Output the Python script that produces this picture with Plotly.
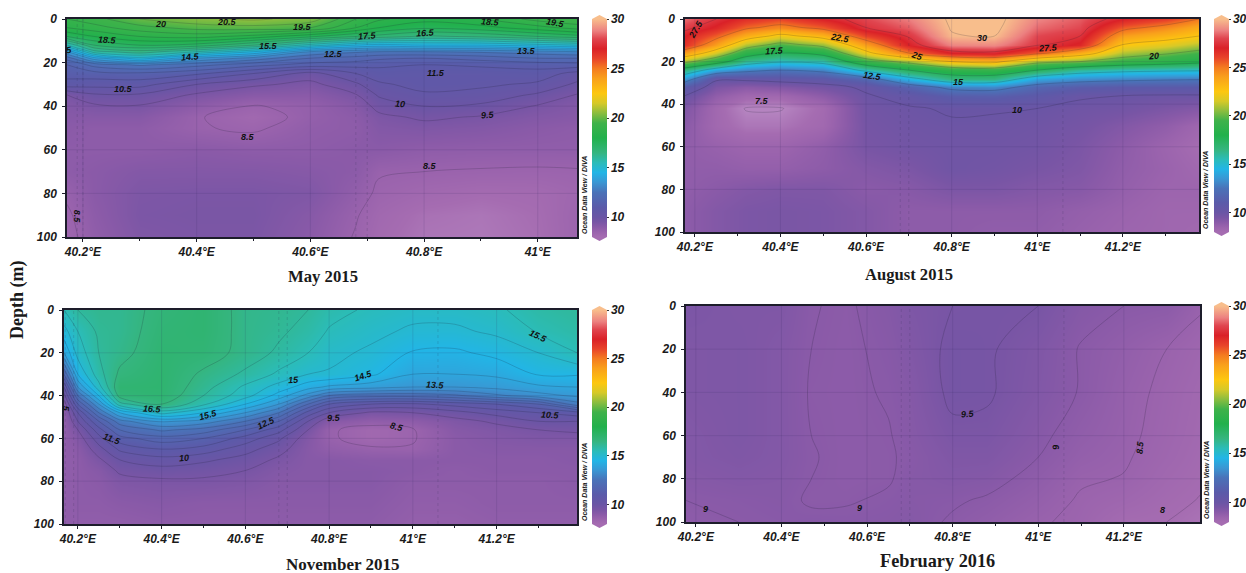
import plotly.graph_objects as go

W, H = 1246, 573

# ---------- Colour scale ----------
stop_values = [7.5, 8, 8.5, 9, 9.5, 10, 11, 12.5, 13.5, 14.5, 15.5, 16.5, 18, 19.5, 20.5, 21.5, 22.5, 24, 25, 26, 27, 28, 28.8, 30]
stop_colors = ["#B584C0", "#A56CB1", "#9A63AD", "#8A5AA8", "#7855A5", "#6A55A5", "#5B5AA9", "#4A72B8", "#3A96D3", "#22B5E6",
               "#2BBCB8", "#35B57F", "#22B14C", "#3FB24A", "#8BBD3F", "#D6C928", "#FDC70F", "#F9A01B", "#F47B20", "#E8432A",
               "#DA2128", "#E0454F", "#EC8080", "#F8BE8C"]
ZLOW, ZMIN, ZMAX = 7.5, 8, 30

# ---------- May 2015 (rows = depth) ----------
may_lon = [40.172, 40.22, 40.3, 40.4, 40.5, 40.6, 40.68, 40.72, 40.8, 40.9, 41.0, 41.069]
may_depth = [0, 4, 8, 12, 15, 18, 21, 25, 30, 35, 40, 45, 50, 60, 70, 80, 90, 100]
may_temp = [
    [19, 19.3, 20, 20.4, 20.6, 20.3, 19, 18.6, 18.2, 18.5, 19.2, 19.5],
    [18.5, 18.8, 19.3, 19.7, 19.8, 19.5, 18.5, 18, 17.6, 17.8, 18.3, 18.7],
    [17.5, 18, 18.5, 18.7, 18.3, 17.6, 17, 16.8, 16.4, 16.6, 17, 17.3],
    [15.5, 17, 17.5, 17.3, 16.5, 15.3, 14.5, 14.3, 14.5, 14.5, 14.8, 15],
    [13.5, 15.8, 16.3, 15.5, 14.5, 13, 12.6, 12.5, 12.5, 12.6, 12.8, 13],
    [12.2, 13.8, 14.8, 13.5, 12.8, 12, 11.8, 11.6, 11.5, 11.7, 12, 12],
    [11.5, 12.2, 12.6, 12.2, 11.7, 11.3, 11.2, 11.1, 11, 11.1, 11.2, 11.3],
    [11.2, 11.3, 11.4, 11.1, 10.5, 9.8, 10.5, 10.8, 10.7, 10.7, 10.8, 10.3],
    [10.8, 10.7, 10.7, 10, 9.6, 9.35, 9.9, 10.4, 10.7, 10.6, 10.4, 9.9],
    [9.45, 9.9, 9.9, 9.4, 9.05, 9, 9.45, 10.05, 10.4, 10.3, 9.9, 9.45],
    [9.2, 9.4, 9.45, 8.9, 8.45, 8.7, 9.1, 9.7, 10, 9.9, 9.45, 9.2],
    [9.1, 9.1, 9.1, 8.55, 8.2, 8.7, 8.95, 9.35, 9.6, 9.45, 9.2, 9.1],
    [9, 8.9, 8.9, 8.55, 8.4, 8.8, 8.9, 9.2, 9.3, 9.2, 9, 8.9],
    [8.9, 8.9, 8.9, 9, 8.9, 8.9, 9, 9, 8.85, 8.8, 8.8, 8.8],
    [8.9, 9, 9.2, 9.2, 9.2, 9.1, 8.95, 8.55, 8.5, 8.45, 8.42, 8.45],
    [8.6, 9, 9.35, 9.4, 9.4, 9.3, 8.75, 8.4, 8.2, 8.05, 8.1, 8.3],
    [8.4, 8.9, 9.4, 9.45, 9.45, 9.1, 8.55, 8.2, 7.9, 7.8, 8, 8.4],
    [8.3, 8.8, 9.3, 9.4, 9.4, 9.0, 8.45, 8.1, 7.8, 7.75, 7.95, 8.4],
]
may_labels = [
    ("20", 40.336, 2.5, 0), ("20.5", 40.454, 1.2, 0), ("19.5", 40.587, 3.8, 0), ("18.5", 40.916, 1.5, 5),
    ("19.5", 41.032, 2, 10), ("18.5", 40.244, 9.6, 3), ("17.5", 40.70, 7.8, -5), ("16.5", 40.802, 6.6, -3),
    ("15.5", 40.526, 12.3, 0), ("14.5", 40.389, 17.3, -5), ("12.5", 40.641, 16, 0), ("13.5", 40.981, 14.7, 0),
    ("5", 40.176, 14, -10), ("11.5", 40.821, 24.7, 0), ("10.5", 40.272, 31.9, 0), ("10", 40.757, 39.2, 5),
    ("9.5", 40.912, 44, -5), ("8.5", 40.49, 54.2, 0), ("8.5", 40.811, 67.4, 0), ("8.5", 40.19, 90.8, 90),
]
may_levels = [(9.5, 30, 0.5), (8.5, 8.5, 0.5)]

# ---------- August 2015 (rows = longitude) ----------
aug_lon = [40.177, 40.25, 40.32, 40.4, 40.5, 40.6, 40.7, 40.8, 40.9, 41.0, 41.1, 41.2, 41.3, 41.378]
aug_depth = [0, 4, 8, 12, 16, 20, 24, 28, 32, 36, 42, 50, 60, 70, 80, 90, 100]
aug_temp = [
    [28.5, 27.8, 27, 26.5, 24, 20.5, 16.5, 13.5, 11, 10, 9.3, 9, 8.8, 8.8, 8.8, 8.9, 8.9],
    [27.5, 26.8, 25.5, 24, 21.5, 18.5, 14, 10.2, 9.4, 8.8, 8.2, 8.2, 8.6, 8.8, 9, 9.2, 9.2],
    [26.6, 25.3, 23.5, 21, 18.6, 16, 13, 10.3, 9, 8.2, 7.45, 7.8, 8.4, 8.7, 9.2, 9.4, 9.4],
    [26, 24.5, 22, 19.5, 17.5, 15.2, 12.5, 10.5, 9.2, 8.2, 7.45, 7.8, 8.4, 8.7, 9.3, 9.45, 9.45],
    [27, 25.5, 23.2, 20.6, 18.2, 15.6, 13, 10.7, 9.6, 8.9, 8.1, 8.2, 8.8, 8.9, 9.3, 9.4, 9.4],
    [28, 27.5, 26, 24, 22, 19, 15.5, 11.8, 10.2, 9.9, 9.7, 9.6, 9.5, 9.2, 9, 9.2, 9.2],
    [28.8, 28.3, 27.6, 27, 25, 20.5, 17.5, 14.5, 11.5, 10.4, 9.9, 9.8, 9.7, 9.4, 9.1, 8.9, 8.9],
    [30.2, 30.1, 29.9, 28.9, 27, 22.5, 18.8, 16.5, 13, 11.2, 10.1, 9.9, 9.8, 9.8, 9.4, 8.9, 8.9],
    [30.4, 30.3, 30, 29, 27.2, 23, 19, 16.5, 13.2, 11.3, 10.05, 9.9, 9.8, 9.7, 9.4, 8.9, 8.8],
    [28.9, 28.5, 28, 27.7, 25.5, 20.5, 17.5, 14, 11.8, 10.8, 10, 9.8, 9.7, 9.5, 9.2, 8.9, 8.8],
    [28.3, 28, 27.5, 26.8, 23.5, 20, 16, 13.3, 11.2, 10.1, 9.8, 9.6, 9.4, 9.3, 9.1, 8.7, 8.6],
    [27, 25.5, 24, 22.5, 21, 19, 15.5, 13, 11, 10, 9.7, 9.2, 8.9, 8.8, 8.7, 8.5, 8.4],
    [26.2, 24.5, 23.2, 21.8, 20.2, 18.5, 15.3, 12.8, 11, 9.9, 9.4, 8.8, 8.4, 8.5, 8.4, 8.3, 8.3],
    [25, 23.5, 22.5, 21, 19.5, 18, 15.2, 12.7, 11, 9.9, 9.2, 8.3, 8, 8.2, 8.4, 8.3, 8.2],
]
aug_labels = [
    ("27.5", 40.203, 4.8, -60), ("22.5", 40.538, 9, 10), ("17.5", 40.387, 15, -3), ("25", 40.72, 17.2, 20),
    ("30", 40.872, 8.8, 0), ("27.5", 41.024, 13.8, -3), ("20", 41.272, 17.3, -5), ("12.5", 40.614, 26.7, 8),
    ("15", 40.815, 29.4, 0), ("7.5", 40.356, 38.6, 0), ("10", 40.953, 42.7, 0),
]
aug_levels = [(7.5, 30, 2.5)]

# ---------- November 2015 (rows = longitude) ----------
nov_lon = [40.167, 40.2, 40.25, 40.3, 40.4, 40.5, 40.6, 40.68, 40.75, 40.8, 40.9, 41.0, 41.1, 41.2, 41.3, 41.392]
nov_depth = [0, 10, 20, 30, 36, 40, 44, 48, 52, 56, 60, 65, 70, 75, 80, 90, 100]
nov_temp = [
    [15.5, 14.8, 14, 12, 10.5, 9.8, 9.2, 8.9, 8.8, 8.8, 8.8, 8.8, 8.8, 8.8, 8.8, 8.8, 8.8],
    [16, 15.5, 15.2, 14.5, 13.5, 12.5, 11.5, 10.5, 10, 9.5, 9.2, 9, 8.9, 8.9, 8.9, 8.9, 8.8],
    [16.2, 16.1, 16, 15.8, 15.3, 14.5, 13.5, 12.5, 11.5, 10.8, 10.3, 9.8, 9.4, 9.1, 9, 8.9, 8.8],
    [16.2, 16.2, 16.3, 16.6, 16.9, 16.7, 15.8, 14, 12.8, 12, 11.3, 10.6, 10, 9.6, 9.3, 9, 8.8],
    [16.7, 16.8, 16.9, 16.95, 16.95, 16.9, 16.6, 15.2, 13.6, 12.6, 11.8, 11, 10.3, 9.8, 9.4, 9.1, 8.9],
    [16.9, 16.9, 16.8, 16.4, 16.2, 16, 15.6, 14.5, 13.3, 12.3, 11.5, 10.8, 10.1, 9.7, 9.4, 9.0, 8.9],
    [16.3, 16.3, 16.3, 15.9, 15.4, 15.2, 14.5, 13.5, 12.5, 11.5, 10.8, 10.2, 9.8, 9.5, 9.3, 9, 8.9],
    [16.2, 16.1, 15.9, 15.4, 14.8, 14.3, 13.5, 12.5, 11.5, 10.7, 10.1, 9.7, 9.4, 9.2, 9.1, 9, 8.9],
    [16, 15.8, 15.5, 15, 14.2, 13.3, 12, 10.8, 10, 9.5, 9.2, 9.1, 9.1, 9.1, 9.1, 9, 8.9],
    [15.7, 15.45, 15.15, 14.95, 13.9, 12.5, 11, 10, 9.1, 8.6, 8.6, 8.8, 9.1, 9.1, 9.1, 9, 8.9],
    [15.4, 15.15, 14.9, 14.6, 13.7, 12.2, 10.5, 9.4, 8.8, 8.2, 8.2, 8.6, 9, 9.1, 9.1, 9, 8.9],
    [15.2, 14.9, 14.45, 14, 13.5, 12.2, 10.4, 9.5, 8.9, 8.45, 8.45, 8.55, 9, 9, 8.9, 8.8, 8.7],
    [15.2, 14.9, 14.4, 14, 13.5, 12.4, 10.7, 9.8, 9.3, 9.1, 9, 9, 9, 8.9, 8.9, 8.8, 8.7],
    [15.4, 15.1, 14.65, 14.1, 13.65, 12.9, 11, 10.2, 9.6, 9.3, 9.2, 9.1, 9, 9, 8.9, 8.9, 8.8],
    [15.8, 15.55, 15, 14.55, 13.9, 13.3, 11.5, 10.5, 10, 9.5, 9.3, 9.1, 9, 9, 8.9, 8.9, 8.8],
    [16, 15.8, 15.5, 14.55, 14, 13.6, 12.8, 10.8, 10, 9.6, 9.3, 9.1, 9.1, 9, 9, 8.9, 8.8],
]
nov_labels = [
    ("15.5", 41.299, 12.1, 25), ("15", 40.714, 32.8, -3), ("14.5", 40.881, 30.7, -18), ("13.5", 41.055, 35.2, 3),
    ("16.5", 40.378, 46.4, 3), ("15.5", 40.511, 49.2, -15), ("12.5", 40.65, 53, -25), ("9.5", 40.812, 50.5, -3),
    ("8.5", 40.962, 54.7, 15), ("10.5", 41.328, 49.2, 3), ("11.5", 40.281, 60.4, 20), ("10", 40.454, 69.3, -5),
    ("5", 40.171, 46, 90),
]
nov_levels = [(9.5, 30, 0.5), (8.5, 8.5, 0.5)]

# ---------- February 2016 (rows = longitude) ----------
feb_lon = [40.177, 40.3, 40.4, 40.47, 40.55, 40.65, 40.7, 40.8, 40.88, 41.0, 41.1, 41.2, 41.3, 41.38]
feb_depth = [0, 20, 40, 60, 70, 80, 90, 100]
feb_temp = [
    [9.4, 9.3, 9.3, 9.2, 9.2, 9.1, 9, 8.9],
    [9.3, 9.35, 9.35, 9.35, 9.3, 9.2, 9.05, 9.0],
    [9.3, 9.2, 9.2, 9.2, 9.2, 9.15, 9.1, 9.05],
    [9.02, 9, 8.97, 9, 9.02, 9, 8.95, 9.1],
    [8.95, 8.93, 8.93, 8.93, 8.93, 8.93, 8.97, 9.08],
    [9.15, 9.08, 9.03, 8.98, 8.97, 8.97, 9.05, 9.1],
    [9.35, 9.25, 9.15, 9.1, 9.05, 9.1, 9.1, 9.15],
    [9.5, 9.6, 9.6, 9.4, 9.3, 9.2, 9.05, 8.95],
    [9.55, 9.55, 9.55, 9.4, 9.3, 9.15, 8.95, 8.8],
    [9.5, 9.3, 9.25, 9.1, 9, 8.85, 8.7, 8.55],
    [9.15, 8.97, 8.97, 8.8, 8.7, 8.55, 8.45, 8.4],
    [9, 8.75, 8.65, 8.6, 8.55, 8.48, 8.3, 8.05],
    [8.95, 8.5, 8.4, 8.35, 8.3, 8.2, 8.1, 8],
    [8.55, 8.3, 8.2, 8.15, 8.1, 8.05, 7.98, 7.85],
]
feb_labels = [
    ("9.5", 40.836, 49.8, -5), ("9", 41.041, 65.3, -100), ("8.5", 41.238, 65.3, -85),
    ("9", 40.222, 93.8, 0), ("9", 40.582, 93.4, 0), ("8", 41.291, 94.3, 0),
]
feb_levels = [(8, 9.5, 0.5)]

# ---------- Tick labels ----------
lon_major = [40.2, 40.4, 40.6, 40.8, 41.0, 41.2]
lon_text = ["40.2°E", "40.4°E", "40.6°E", "40.8°E", "41°E", "41.2°E"]
lon_minor = [40.3, 40.5, 40.7, 40.9, 41.1, 41.3]
depth_ticks = [0, 20, 40, 60, 80, 100]
cbar_ticks = [10, 15, 20, 25, 30]

panels = [
    dict(lon=may_lon, depth=may_depth, temp=may_temp, labels=may_labels, levels=may_levels, title="May 2015", tsize=16.7, transpose=False,
         box=(67, 577, 19, 237), xr=(40.172, 41.069), cb=(592, 19, 237), tx=323, ty=276, odv=584, stations=[40.19, 40.2, 40.68, 40.7]),
    dict(lon=aug_lon, depth=aug_depth, temp=aug_temp, labels=aug_labels, levels=aug_levels, title="August 2015", tsize=16.6, transpose=True,
         box=(685, 1199, 19, 232), xr=(40.177, 41.378), cb=(1214, 19, 232), tx=909, ty=274, odv=1206, stations=[40.68, 40.7, 41.06]),
    dict(lon=nov_lon, depth=nov_depth, temp=nov_temp, labels=nov_labels, levels=nov_levels, title="November 2015", tsize=17, transpose=True,
         box=(64, 577, 310, 524), xr=(40.167, 41.392), cb=(592, 310, 524), tx=342, ty=564, odv=584, stations=[40.17, 40.19, 40.68, 40.7, 41.06]),
    dict(lon=feb_lon, depth=feb_depth, temp=feb_temp, labels=feb_labels, levels=feb_levels, title="February 2016", tsize=18.3, transpose=True,
         box=(686, 1200, 306, 522), xr=(40.177, 41.378), cb=(1214, 306, 522), tx=937, ty=561, odv=1206, stations=[40.68, 40.7, 41.06]),
]

colorscale = [[(v - ZLOW) / (ZMAX - ZLOW), c] for v, c in zip(stop_values, stop_colors)]
bar_scale = [[(v - ZMIN) / (ZMAX - ZMIN), c] for v, c in zip(stop_values, stop_colors) if v >= ZMIN]
TICK = dict(family="Liberation Sans", size=12, color="#1a1a1a", weight="bold", style="italic")
AXC = "#1d1d2b"


def px(x):
    return x / W


def py(y):
    return 1 - y / H


fig = go.Figure()
shapes, annos = [], []

for i, p in enumerate(panels, start=1):
    suffix = "" if i == 1 else str(i)
    xa, ya = f"xaxis{suffix}", f"yaxis{suffix}"
    xr_, yr_ = f"x{suffix}", f"y{suffix}"
    L, R, T, B = p["box"]
    cbx, cbt, cbb = p["cb"]
    # carries the 8-30 colour bar; the field above it also shows the colder water
    fig.add_trace(go.Heatmap(
        x=p["lon"], y=p["depth"], z=p["temp"], transpose=p["transpose"], xaxis=xr_, yaxis=yr_,
        zmin=ZMIN, zmax=ZMAX, colorscale=bar_scale, zsmooth="best", hoverinfo="skip",
        colorbar=dict(
            x=px(cbx), xanchor="left", xpad=0, y=py(cbt), yanchor="top", ypad=0, thickness=15, thicknessmode="pixels",
            len=cbb - cbt, lenmode="pixels", outlinewidth=0, tickmode="array", tickvals=cbar_ticks,
            ticks="outside", ticklen=2, tickcolor="#333", tickwidth=1, tickfont=TICK,
        ),
    ))
    fig.add_trace(go.Heatmap(
        x=p["lon"], y=p["depth"], z=p["temp"], transpose=p["transpose"], xaxis=xr_, yaxis=yr_, showscale=False,
        zmin=ZLOW, zmax=ZMAX, colorscale=colorscale, zsmooth="best", hoverinfo="skip",
    ))
    for start, end, size in p["levels"]:
        fig.add_trace(go.Contour(
            x=p["lon"], y=p["depth"], z=p["temp"], transpose=p["transpose"], xaxis=xr_, yaxis=yr_, showscale=False,
            contours=dict(coloring="none", start=start, end=end, size=size),
            line=dict(color="rgba(25,25,45,0.32)", width=0.6, smoothing=1), hoverinfo="skip",
        ))
    fig.update_layout({
        xa: dict(domain=[px(L), px(R)], range=list(p["xr"]), anchor=yr_, tickmode="array", tickvals=lon_major,
                 ticktext=lon_text, ticks="outside", ticklen=3, tickcolor=AXC, tickfont=TICK, showgrid=False,
                 zeroline=False, showline=True, linecolor=AXC, linewidth=1.5, mirror=True, ticklabelstandoff=0,
                 minor=dict(tickmode="array", tickvals=lon_minor, ticks="outside", ticklen=2, tickcolor=AXC)),
        ya: dict(domain=[py(B), py(T)], range=[100, 0], anchor=xr_, tickmode="array", tickvals=depth_ticks,
                 ticks="outside", ticklen=3, tickcolor=AXC, tickfont=TICK, showgrid=False, zeroline=False,
                 showline=True, linecolor=AXC, linewidth=1.5, mirror=True, ticklabelstandoff=3),
    })
    # grid drawn above the field
    for v in lon_major:
        if p["xr"][0] < v < p["xr"][1]:
            shapes.append(dict(type="line", xref=xr_, yref=f"{yr_} domain", x0=v, x1=v, y0=0, y1=1, layer="above",
                               line=dict(color="rgba(50,40,90,0.22)", width=0.6)))
    for v in depth_ticks[1:-1]:
        shapes.append(dict(type="line", xref=f"{xr_} domain", yref=yr_, x0=0, x1=1, y0=v, y1=v, layer="above",
                           line=dict(color="rgba(50,40,90,0.22)", width=0.6)))
    for v in p["stations"]:
        shapes.append(dict(type="line", xref=xr_, yref=f"{yr_} domain", x0=v, x1=v, y0=0, y1=1, layer="above",
                           line=dict(color="rgba(40,40,70,0.28)", width=0.6, dash="dot")))
    # colour bar end caps
    mid = px(cbx + 7.5)
    shapes.append(dict(type="path", xref="paper", yref="paper", layer="above", line=dict(width=0), fillcolor="#F8BE8C",
                       path=f"M {px(cbx)} {py(cbt)} L {mid} {py(cbt - 4)} L {px(cbx + 15)} {py(cbt)} Z"))
    shapes.append(dict(type="path", xref="paper", yref="paper", layer="above", line=dict(width=0), fillcolor="#A56CB1",
                       path=f"M {px(cbx)} {py(cbb)} L {mid} {py(cbb + 4)} L {px(cbx + 15)} {py(cbb)} Z"))
    # contour labels
    for text, lon, dep, ang in p["labels"]:
        annos.append(dict(text=text, x=lon, y=dep, xref=xr_, yref=yr_, showarrow=False, textangle=ang,
                          xanchor="center", yanchor="middle",
                          font=dict(family="Liberation Sans", size=9, color="#111", weight="bold", style="italic")))
    # panel title
    annos.append(dict(text=f"<b>{p['title']}</b>", x=px(p["tx"]), y=py(p["ty"]), xref="paper", yref="paper", showarrow=False,
                      xanchor="center", yanchor="middle",
                      font=dict(family="Liberation Serif", size=p["tsize"], color="#1a1a1a")))
    # side note
    annos.append(dict(text="Ocean Data View / DIVA", x=px(p["odv"]), y=py(B - 1), xref="paper", yref="paper", yanchor="bottom",
                      xanchor="center", showarrow=False, textangle=-90,
                      font=dict(family="Liberation Sans", size=7, color="#222", weight="bold", style="italic")))

annos.append(dict(text="<b>Depth (m)</b>", x=px(17), y=py(300), xref="paper", yref="paper", showarrow=False, textangle=-90,
                  xanchor="center", yanchor="middle", font=dict(family="Liberation Serif", size=18, color="#1a1a1a")))

fig.update_layout(width=W, height=H, margin=dict(l=0, r=0, t=0, b=0, autoexpand=False), paper_bgcolor="white",
                  plot_bgcolor="white", showlegend=False, shapes=shapes, annotations=annos)
fig.write_html("out.html", config=dict(displayModeBar=False), post_script="document.body.style.margin='0';")
